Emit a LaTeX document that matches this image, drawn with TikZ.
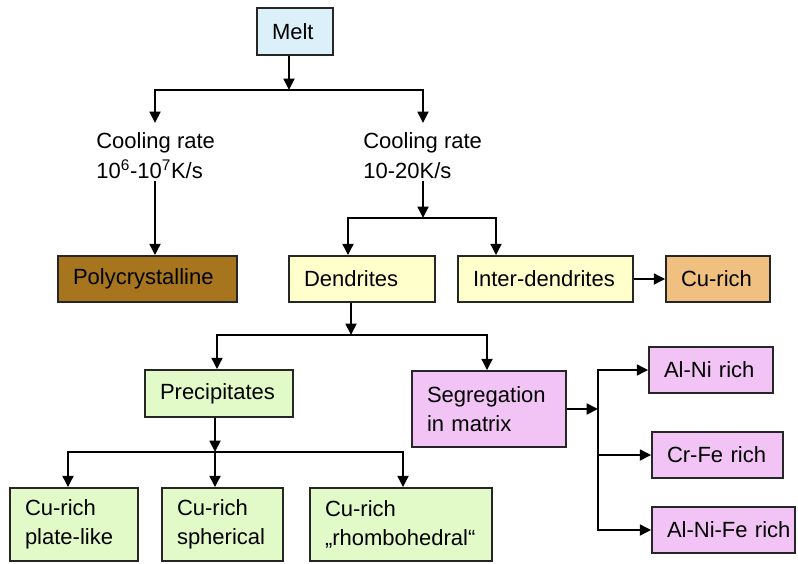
\documentclass[tikz,border=0pt]{standalone}
\usepackage{fontspec}
\setmainfont{Liberation Sans}
\usetikzlibrary{arrows.meta}
\definecolor{meltblue}{RGB}{220,240,250}
\definecolor{polybrown}{RGB}{166,117,30}
\definecolor{dendyellow}{RGB}{255,255,204}
\definecolor{cuorange}{RGB}{240,192,128}
\definecolor{precgreen}{RGB}{226,250,200}
\definecolor{segpink}{RGB}{242,196,246}

\begin{document}
\begin{tikzpicture}[x=0.75pt,y=-0.75pt,line width=2pt,
   >={Triangle[length=8.5pt,width=8pt]},
   box/.style={draw=black!85,line width=1.2pt,align=left,inner xsep=11.25pt,inner ysep=0pt,
               font=\fontsize{16.5}{22}\selectfont},
   rate/.style={align=left,anchor=north west,inner xsep=0pt,inner ysep=6.5pt,
               font=\fontsize{16.5}{22.5}\selectfont}]
\useasboundingbox (0,0) rectangle (798,563);
% boxes: name/colour/centre x/centre y/width/height/text
\foreach \nm/\c/\x/\y/\w/\h/\t in
     {melt/meltblue/295/31.5/76/47/Melt,
      poly/polybrown/147.5/279/179/46/Polycrystalline,
      dend/dendyellow/362/279/146/46/Dendrites,
      inter/dendyellow/545.5/279/175/46/Inter-dendrites,
      curich/cuorange/718/279/104/46/Cu-rich,
      precip/precgreen/219/393.5/148/47/Precipitates,
      segreg/segpink/489/409/154/76/Segregation\\in~matrix,
      alni/segpink/711/370/124/46/\mbox{Al-Ni rich},
      crfe/segpink/717.5/455/131/46/\mbox{Cr-Fe rich},
      alnife/segpink/723.5/530/143/46/\mbox{Al-Ni-Fe rich},
      plate/precgreen/74/524.5/128/73/Cu-rich\\plate-like,
      spher/precgreen/222.5/524.5/121/73/Cu-rich\\spherical,
      rhombo/precgreen/401/524.5/182/73/Cu-rich\\„rhombohedral“}
   {\pgfmathsetmacro\tw{(\w-30)*0.75}
    \pgfmathsetmacro\hh{\h*0.75}
    \node[box,fill=\c,text width=\tw pt,minimum height=\hh pt] (\nm) at (\x,\y) {\t};}
\node[rate] (rate1) at (95,123) {Cooling rate\\10\textsuperscript{6}-10\textsuperscript{7}K/s};
\node[rate] (rate2) at (362,123) {Cooling rate\\10-20K/s};

% melt -> cooling rates
\coordinate (m0) at (289,90);
\coordinate (m1) at (155,90);
\coordinate (m2) at (423,90);
\draw[->] (melt.south -| m0) -- (m0);
\draw[->] (m0) -- (m1) -- (m1 |- rate1.north);
\draw[->] (m0) -- (m2) -- (m2 |- rate2.north);
\draw[->,shorten <=-6pt] (rate1.south -| m1) -- (m1 |- poly.north);

% slow cooling
\coordinate (d0) at (423,218);
\coordinate (d1) at (348,218);
\coordinate (d2) at (496,218);
\draw[->,shorten <=-6pt] (rate2.south -| d0) -- (d0);
\draw[->] (d0) -- (d1) -- (d1 |- dend.north);
\draw[->] (d0) -- (d2) -- (d2 |- inter.north);
\draw[->] (inter) -- (curich);

% dendrites
\coordinate (p0) at (351,335);
\coordinate (p1) at (217,335);
\coordinate (p2) at (487,335);
\draw[->] (dend.south -| p0) -- (p0);
\draw[->] (p0) -- (p1) -- (p1 |- precip.north);
\draw[->] (p0) -- (p2) -- (p2 |- segreg.north);

% precipitates
\coordinate (c0) at (215,452);
\coordinate (c1) at (68,452);
\coordinate (c2) at (403,452);
\draw[->] (precip.south -| c0) -- (c0);
\draw[->] (c0) -- (c0 |- spher.north);
\draw[->] (c0) -- (c1) -- (c1 |- plate.north);
\draw[->] (c0) -- (c2) -- (c2 |- rhombo.north);

% segregation
\coordinate (s0) at (598,409);
\draw[->] (segreg) -- (s0);
\draw[->] (s0) |- (alni);
\draw[->] (s0) |- (crfe);
\draw[->] (s0) |- (alnife);
\end{tikzpicture}
\end{document}
